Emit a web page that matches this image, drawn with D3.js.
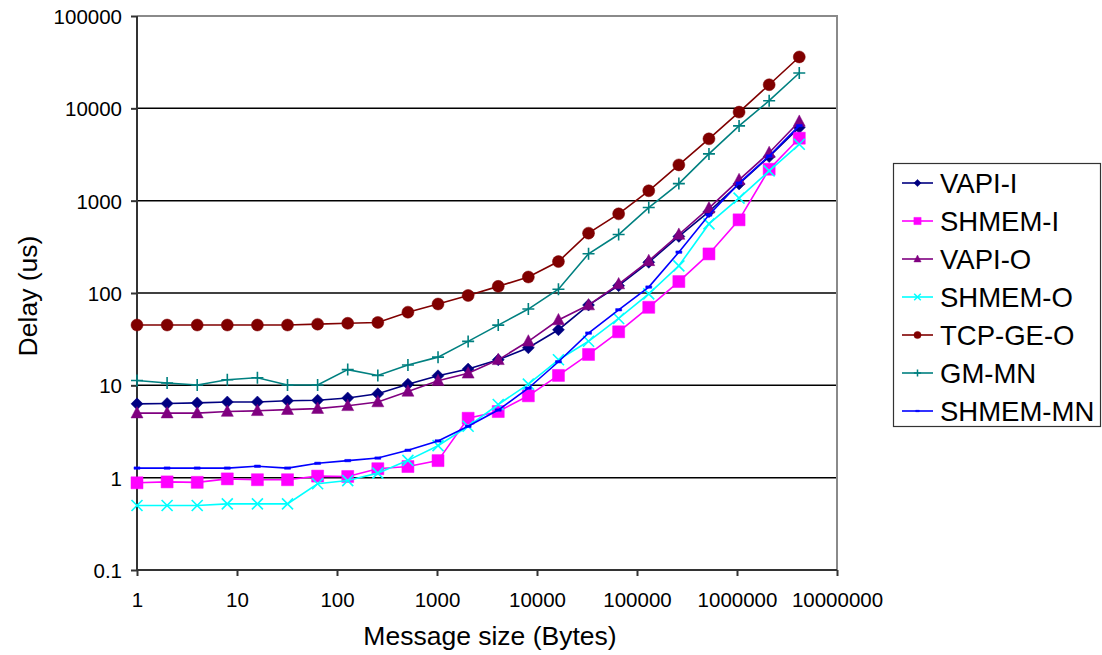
<!DOCTYPE html>
<meta charset="utf-8" />
<html>
<head>
    <style>
        body { margin: 0; background: #fff; }
        text { font-family: "Liberation Sans", Arial, sans-serif; fill: #000; }
        .grid line { stroke: #000; stroke-width: 1.5px; }
        .axis path, .axis line { stroke: #333; stroke-width: 2px; }
    </style>
</head>
<body>
    <svg width="1102" height="655"></svg>
    <script src="https://d3js.org/d3.v7.min.js"></script>
    <script>
        // message sizes (bytes)
        var sizes = [1, 2, 4, 8, 16, 32, 64, 128, 256, 512, 1024, 2048, 4096, 8192, 16384,
            32768, 65536, 131072, 262144, 524288, 1048576, 2097152, 4194304];

        // delays in us
        var vapiI = [6.3, 6.35, 6.45, 6.6, 6.6, 6.8, 6.9, 7.3, 8.1, 10.3, 12.7, 15, 18.9, 25.5, 40, 74, 120, 215, 410, 760, 1520, 3000, 6200];
        var shmemI = [0.88, 0.9, 0.89, 0.97, 0.95, 0.95, 1.04, 1.03, 1.25, 1.32, 1.53, 4.4, 5.2, 7.7, 12.8, 21.6, 38, 70, 133, 265, 620, 2190, 4750];
        var vapiO = [5.0, 5.0, 5.0, 5.2, 5.3, 5.45, 5.6, 6.0, 6.6, 8.6, 11.2, 13.5, 18.9, 30, 51, 74, 125, 223, 430, 830, 1680, 3300, 7200];
        var shmemO = [0.5, 0.5, 0.5, 0.52, 0.52, 0.52, 0.86, 0.93, 1.12, 1.54, 2.22, 3.6, 6.2, 10.3, 18.9, 30, 53, 98, 197, 560, 1065, 2100, 4080];
        var tcpGeO = [45, 45, 45, 45, 45, 45, 46, 47, 48, 62, 76, 94, 118, 149, 219, 445, 720, 1280, 2440, 4670, 9100, 18000, 36000];
        var gmMN = [11.3, 10.6, 10.1, 11.5, 12.1, 10.1, 10.1, 14.8, 12.8, 16.6, 20.2, 29.9, 44.9, 67, 110, 266, 430, 842, 1530, 3210, 6450, 12100, 24150];
        var shmemMN = [1.27, 1.27, 1.27, 1.27, 1.33, 1.27, 1.43, 1.53, 1.63, 1.98, 2.5, 3.6, 5.4, 9.3, 18, 36.8, 65.8, 116, 277, 700, 1550, 3050, 6500];

        var xTicks = [1, 10, 100, 1000, 10000, 100000, 1000000, 10000000];
        var yTicks = [0.1, 1, 10, 100, 1000, 10000, 100000];
        var yTickLabels = ["0.1", "1", "10", "100", "1000", "10000", "100000"];

        var series = [
            { name: "VAPI-I", values: vapiI, color: "#000080", marker: "diamond" },
            { name: "SHMEM-I", values: shmemI, color: "#FF00FF", marker: "square" },
            { name: "VAPI-O", values: vapiO, color: "#800080", marker: "triangle" },
            { name: "SHMEM-O", values: shmemO, color: "#00FFFF", marker: "cross" },
            { name: "TCP-GE-O", values: tcpGeO, color: "#800000", marker: "circle" },
            { name: "GM-MN", values: gmMN, color: "#008080", marker: "plus" },
            { name: "SHMEM-MN", values: shmemMN, color: "#0000FF", marker: "dash" }
        ];

        var svg = d3.select("svg");
        var plotL = 137, plotR = 837, plotT = 16, plotB = 570;

        var x = d3.scaleLog().domain([1, 1e7]).range([plotL, plotR]);
        var y = d3.scaleLog().domain([0.1, 1e5]).range([plotB, plotT]);

        // gridlines
        svg.append("g").attr("class", "grid")
            .selectAll("line")
            .data(yTicks.slice(1, -1))
            .enter().append("line")
            .attr("x1", plotL).attr("x2", plotR)
            .attr("y1", function (d) { return y(d); })
            .attr("y2", function (d) { return y(d); });

        // top and right border of plot area
        svg.append("path")
            .attr("d", "M" + plotL + "," + plotT + "H" + plotR + "V" + plotB)
            .attr("fill", "none").attr("stroke", "#8a8a8a").attr("stroke-width", 2);

        var xAxis = svg.append("g").attr("class", "axis")
            .attr("transform", "translate(0," + plotB + ")")
            .call(d3.axisBottom(x).tickValues(xTicks).tickSize(6).tickSizeOuter(0).tickFormat(d3.format("d")));
        xAxis.selectAll("text").attr("font-size", 20.5).attr("dy", null).attr("y", 37);

        var yAxis = svg.append("g").attr("class", "axis")
            .attr("transform", "translate(" + plotL + ",0)")
            .call(d3.axisLeft(y).tickValues(yTicks).tickSize(6).tickSizeOuter(0)
                .tickFormat(function (d, i) { return yTickLabels[i]; }));
        yAxis.selectAll("text").attr("font-size", 20.5).attr("x", -15).attr("dy", "0.36em");
        xAxis.select(".domain").attr("d", "M" + plotL + ",0H" + plotR);
        yAxis.select(".domain").attr("d", "M0," + plotB + "V" + plotT);

        function markerPath(type, s) {
            var h = s / 2;
            switch (type) {
                case "diamond": return "M0," + (-h) + "L" + h + ",0L0," + h + "L" + (-h) + ",0Z";
                case "square": return "M" + (-h) + "," + (-h) + "H" + h + "V" + h + "H" + (-h) + "Z";
                case "triangle": return "M0," + (-h * 1.1) + "L" + h + "," + (h * 0.8) + "L" + (-h) + "," + (h * 0.8) + "Z";
                case "circle": return d3.symbol(d3.symbolCircle, Math.PI * h * h)();
                case "cross": return "M" + (-h) + "," + (-h) + "L" + h + "," + h + "M" + (-h) + "," + h + "L" + h + "," + (-h);
                case "plus": return "M" + (-h) + ",0H" + h + "M0," + (-h) + "V" + h;
                case "dash": return "M" + (-h) + "," + (-h * 0.4) + "H" + h + "V" + (h * 0.4) + "H" + (-h) + "Z";
            }
        }
        var markerSize = { diamond: 12, square: 12, triangle: 12, circle: 12, cross: 11, plus: 12, dash: 6 };
        var lineMarker = { cross: true, plus: true };

        var line = d3.line()
            .x(function (d) { return x(d[0]); })
            .y(function (d) { return y(d[1]); });

        series.forEach(function (s) {
            var pts = sizes.map(function (v, i) { return [v, s.values[i]]; });
            var g = svg.append("g");
            g.append("path")
                .attr("d", line(pts))
                .attr("fill", "none")
                .attr("stroke", s.color)
                .attr("stroke-width", 1.6);
            g.selectAll("path.m")
                .data(pts)
                .enter().append("path")
                .attr("class", "m")
                .attr("transform", function (d) { return "translate(" + x(d[0]) + "," + y(d[1]) + ")"; })
                .attr("d", markerPath(s.marker, markerSize[s.marker]))
                .attr("fill", lineMarker[s.marker] ? "none" : s.color)
                .attr("stroke", s.color)
                .attr("stroke-width", lineMarker[s.marker] ? 1.6 : 0.5);
        });

        // axis titles
        svg.append("text")
            .attr("x", 490).attr("y", 645)
            .attr("text-anchor", "middle").attr("font-size", 26.5)
            .text("Message size (Bytes)");
        svg.append("text")
            .attr("transform", "translate(37," + 296 + ") rotate(-90)")
            .attr("text-anchor", "middle").attr("font-size", 26.5)
            .text("Delay (us)");

        // legend
        var legend = svg.append("g");
        legend.append("rect")
            .attr("x", 893.5).attr("y", 163.5).attr("width", 207).attr("height", 263)
            .attr("fill", "#fff").attr("stroke", "#333").attr("stroke-width", 1.2);
        var item = legend.selectAll("g.item")
            .data(series)
            .enter().append("g")
            .attr("class", "item")
            .attr("transform", function (d, i) { return "translate(0," + (183 + i * 38) + ")"; });
        item.append("line")
            .attr("x1", 902).attr("x2", 933)
            .attr("stroke", function (d) { return d.color; })
            .attr("stroke-width", 1.6);
        item.append("path")
            .attr("transform", "translate(917.5,0)")
            .attr("d", function (d) { return markerPath(d.marker, markerSize[d.marker] * 0.6); })
            .attr("fill", function (d) { return lineMarker[d.marker] ? "none" : d.color; })
            .attr("stroke", function (d) { return d.color; })
            .attr("stroke-width", function (d) { return lineMarker[d.marker] ? 1.5 : 0.5; });
        item.append("text")
            .attr("x", 940).attr("dy", "0.36em")
            .attr("font-size", 27.5)
            .text(function (d) { return d.name; });
    </script>
</body>
</html>
